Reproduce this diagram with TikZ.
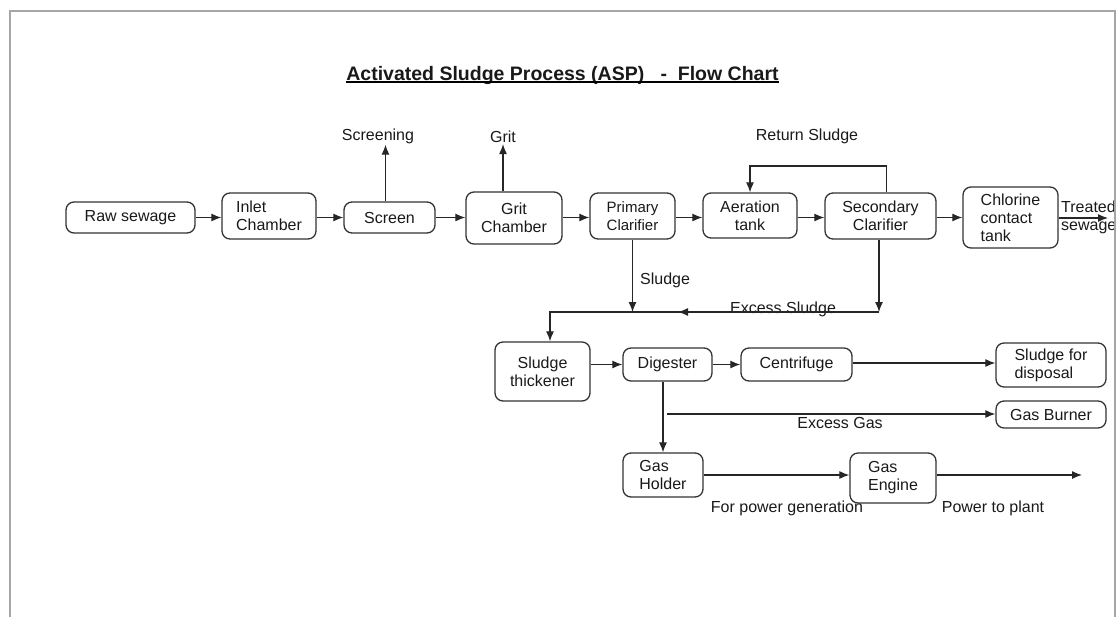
\documentclass[tikz,border=0pt]{standalone}
\usepackage{fontspec}
\setmainfont{Liberation Sans}
\usetikzlibrary{calc,shapes,arrows,arrows.meta}

\begin{document}
\begin{tikzpicture}[x=1pt,y=-1pt,
        every node/.style={font=\fontsize{16}{18}\selectfont, text=black!90},
        box/.style={draw=black!80, line width=1.3pt, rounded corners=8pt, inner sep=0pt},
        lbl/.style={inner sep=1pt},
        flow/.style={draw=black!85, line width=1.2pt, -{Latex[length=10pt,width=8pt]}}]
        \useasboundingbox (0,0) rectangle (1118,616);
        \node[inner sep=0pt, anchor=base, font=\fontsize{19.5}{23}\selectfont\bfseries] (title) at (562.5,80) {Activated Sludge Process (ASP)\ \ \ -\ \ Flow Chart};
        \draw[line width=1.3pt] ([yshift=-2pt]title.base west) -- ([yshift=-2pt]title.base east);

        \node[box, minimum width=129pt, minimum height=31pt] (raw) at (130.5,217.5) {Raw sewage};
        \node[box, minimum width=94pt, minimum height=46pt, align=left] (inlet) at (269,216) {Inlet\\Chamber};
        \node[box, minimum width=91pt, minimum height=31pt] (screen) at (389.5,217.5) {Screen};
        \node[box, minimum width=96pt, minimum height=52pt, align=center] (grit) at (514,218) {Grit\\Chamber};
        \node[box, minimum width=85pt, minimum height=46pt, align=center, font=\fontsize{15}{18}\selectfont] (primary) at (632.5,216) {Primary\\Clarifier};
        \node[box, minimum width=94pt, minimum height=45pt, align=center] (aeration) at (750,215.5) {Aeration\\tank};
        \node[box, minimum width=111pt, minimum height=46pt, align=center] (secondary) at (880.5,216) {Secondary\\Clarifier};
        \node[box, minimum width=95pt, minimum height=61pt, align=left] (chlorine) at (1010.5,217.5) {Chlorine\\contact\\tank};

        \node[box, minimum width=95pt, minimum height=59pt, align=center] (thickener) at (542.5,371.5) {Sludge\\thickener};
        \node[box, minimum width=89pt, minimum height=33pt] (digester) at (667.5,364.5) {Digester};
        \node[box, minimum width=111pt, minimum height=33pt] (centrifuge) at (796.5,364.5) {Centrifuge};
        \node[box, minimum width=110pt, minimum height=44pt, align=left] (disposal) at (1051,365) {Sludge for\\disposal};
        \node[box, minimum width=110pt, minimum height=27pt] (burner) at (1051,414.5) {Gas Burner};
        \node[box, minimum width=80pt, minimum height=44pt, align=left] (holder) at (663,475) {Gas\\Holder};
        \node[box, minimum width=86pt, minimum height=50pt, align=left] (engine) at (893,478) {Gas\\Engine};

        \node[lbl] (screening) at (378,136) {Screening};
        \node[lbl] (gritout) at (503,137) {Grit};
        \node[lbl] (retlbl) at (807,136) {Return Sludge};
        \node[lbl, anchor=west, align=left, inner sep=0pt] (treated) at (1061,217) {Treated\\sewage};
        \node[lbl, anchor=west] (sludgelbl) at (639,280) {Sludge};
        \node[lbl, anchor=base, inner sep=0pt] (exslbl) at (783,313) {Excess Sludge};
        \node[lbl, anchor=north, inner sep=0pt] (exglbl) at (840,417) {Excess Gas};
        \node[lbl] (powgen) at (787,508) {For power generation};
        \node[lbl] (powplant) at (993,508) {Power to plant};

        \coordinate (rtop) at (820,166);
        \coordinate (exs) at (879,312);
        \coordinate (exsmid) at (678,312);
        \coordinate (gasfork) at (667,414);
        \coordinate (treatedend) at (1108,218);
        \coordinate (plant) at (1082,475);

        \draw[flow] (raw.east) -- (raw.east -| inlet.west);
        \draw[flow] (inlet.east |- raw.east) -- (raw.east -| screen.west);
        \draw[flow] (screen.east) -- (screen.east -| grit.west);
        \draw[flow] (grit.east |- screen.east) -- (screen.east -| primary.west);
        \draw[flow] (primary.east |- screen.east) -- (screen.east -| aeration.west);
        \draw[flow] (aeration.east |- screen.east) -- (screen.east -| secondary.west);
        \draw[flow] (secondary.east |- screen.east) -- (screen.east -| chlorine.west);
        \draw[flow] (chlorine.east |- treatedend) -- (treatedend);

        \draw[flow] ([xshift=-4pt]screen.north) -- ([xshift=-4pt]screen.north |- screening.south);
        \draw[flow] (gritout.south |- grit.north) -- (gritout.south);
        \draw[flow] ([xshift=6pt]secondary.north) |- (rtop) -| (aeration.north);

        \draw[flow] (primary.south) -- (primary.south |- exs);
        \draw[flow] ([xshift=-1.5pt]secondary.south) -- (exs);
        \draw[flow] (exs) -- (exsmid);
        \draw[flow] (exs) -| ([xshift=7.5pt]thickener.north);

        \draw[flow] (digester.west -| thickener.east) -- (digester.west);
        \draw[flow] (digester.east) -- (centrifuge.west);
        \draw[flow] (centrifuge.east |- disposal.west) ++(0,-2) -- ($(disposal.west)+(0,-2)$);
        \draw[flow] (holder.north |- digester.south) -- (holder.north);
        \draw[flow] (gasfork) -- (gasfork -| burner.west);
        \draw[flow] (holder.east) -- (holder.east -| engine.west);
        \draw[flow] (holder.east -| engine.east) -- (plant);

        \draw[gray!70, line width=2pt] (10,630) -- (10,11) -- (1115,11) -- (1115,630);
    \end{tikzpicture}
\end{document}
